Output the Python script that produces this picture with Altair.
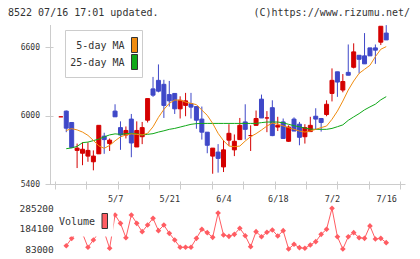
import altair as alt
import pandas as pd

dates = ["4/18", "4/21", "4/22", "4/23", "4/24", "4/25", "4/28", "4/30", "5/1", "5/2",
         "5/7", "5/8", "5/9", "5/12", "5/13", "5/14", "5/15", "5/16", "5/19", "5/20",
         "5/21", "5/22", "5/23", "5/26", "5/27", "5/28", "5/29", "5/30", "6/2", "6/3",
         "6/4", "6/5", "6/6", "6/9", "6/10", "6/11", "6/12", "6/13", "6/16", "6/17",
         "6/18", "6/19", "6/20", "6/23", "6/24", "6/25", "6/26", "6/27", "6/30", "7/1",
         "7/2", "7/3", "7/4", "7/7", "7/8", "7/9", "7/10", "7/11", "7/14", "7/15", "7/16"]

opens = [5990, 6040, 5940, 5695, 5670, 5645, 5595, 5665, 5820, 5755,
         6040, 5895, 5830, 5970, 5725, 5815, 5960, 6235, 6310, 6275,
         6185, 6195, 6060, 6090, 6105, 6080, 5970, 5855, 5645, 5680,
         5550, 5785, 5700, 5790, 5945, 5825, 5915, 6145, 5980, 6070,
         5900, 5945, 5775, 5970, 5925, 5815, 5860, 5995, 5975, 6010,
         6195, 6385, 6225, 6380, 6425, 6530, 6525, 6595, 6595, 6645, 6725]
closes = [5990, 5890, 5720, 5715, 5705, 5695, 5645, 5915, 5790, 5785,
          5990, 5830, 5870, 5760, 5870, 5895, 6150, 6180, 6215, 6090,
          6130, 6060, 6135, 6130, 6075, 5960, 5855, 5740, 5715, 5625,
          5700, 5845, 5775, 5915, 5880, 5825, 5975, 5980, 5980, 5825,
          5915, 5800, 5900, 5865, 5810, 5895, 5915, 5970, 5940, 6100,
          6310, 6295, 6300, 6355, 6560, 6495, 6455, 6525, 6575, 6785, 6665]
highs = [5990, 6045, 5940, 5755, 5765, 5765, 5695, 5915, 5850, 5800,
         6100, 5950, 5905, 6015, 5950, 5945, 6150, 6340, 6450, 6315,
         6305, 6195, 6170, 6200, 6200, 6085, 6080, 5855, 5715, 5750,
         5785, 5925, 5835, 5980, 6100, 5915, 6045, 6185, 6040, 6135,
         5990, 5975, 5915, 5985, 5945, 5925, 5990, 6065, 5980, 6135,
         6415, 6385, 6365, 6625, 6635, 6530, 6725, 6595, 6625, 6785, 6795]
lows = [5990, 5855, 5715, 5540, 5565, 5595, 5520, 5665, 5665, 5690,
        5990, 5700, 5800, 5635, 5725, 5750, 5940, 6165, 6205, 5980,
        6080, 6015, 5975, 5995, 5975, 5885, 5790, 5670, 5490, 5500,
        5505, 5735, 5645, 5790, 5790, 5690, 5910, 5980, 5855, 5820,
        5865, 5800, 5770, 5865, 5740, 5755, 5860, 5880, 5860, 5995,
        6125, 6165, 6205, 6355, 6415, 6370, 6455, 6525, 6455, 6620, 6665]

ma5 = [None, 5870, 5886, 5875, 5856, 5827, 5783, 5735, 5713, 5739,
       5779, 5814, 5831, 5840, 5836, 5831, 5845, 5902, 5985, 6055,
       6108, 6137, 6137, 6119, 6108, 6097, 6049, 6003, 5932, 5845,
       5780, 5733, 5728, 5733, 5777, 5816, 5842, 5874, 5909, 5935,
       5925, 5910, 5895, 5880, 5865, 5856, 5865, 5880, 5895, 5909,
       5968, 6040, 6128, 6225, 6304, 6371, 6407, 6442, 6518, 6583, 6606]
ma25 = [None, 5710, 5717, 5730, 5763, 5768, 5781, 5794, 5814, 5831,
        5840, 5836, 5842, 5845, 5840, 5831, 5836, 5842, 5856, 5867,
        5880, 5888, 5900, 5912, 5924, 5930, 5932, 5932, 5932, 5932,
        5932, 5932, 5932, 5932, 5932, 5932, 5932, 5939, 5944, 5944,
        5944, 5937, 5924, 5912, 5902, 5891, 5882, 5880, 5880, 5880,
        5888, 5903, 5919, 5959, 5989, 6018, 6051, 6077, 6101, 6139, 6167]

volume = [None, 99000, 136000, 162500, 160000, 91500, 127500, 165000, 167500, 86500,
          252000, 210500, 139000, 252000, 210500, 169000, 202000, 235500, 174000, 202000,
          161000, 127500, 91500, 91500, 91500, 136000, 181000, 164000, 141000, 262000,
          152500, 146000, 156000, 186000, 149000, 94500, 169000, 144000, 166000, 177500,
          147500, 174000, 83000, 106500, 89500, 86500, 103000, 119500, 156000, 181000,
          285200, 144000, 83000, 144000, 164000, 139000, 136000, 197500, 132500, 136000, 114500]

price_ticks = [5400, 6000, 6600]
volume_ticks = [83000, 184100, 285200]
label_idx = [10, 20, 30, 40, 50, 60]

RED = "#d40000"
BLUE = "#3f48c8"
ORANGE = "#f08c10"
GREEN = "#10a818"
VOLC = "#ff5c62"
AXC = "#cccccc"
TXT = "#333333"
FONT = "DejaVu Sans Mono"

W, H = 355, 159

df = pd.DataFrame({
    "idx": list(range(len(dates))),
    "date": dates,
    "open": opens, "close": closes, "high": highs, "low": lows,
    "ma5": ma5, "ma25": ma25, "vol": volume,
})
df["dir"] = ["up" if c >= o else "down" for o, c in zip(opens, closes)]

x0, x1 = -1.075, 62.54
xscale = alt.Scale(domain=[x0, x1], nice=False, zero=False)
tick_vals = [x0 + k * (x1 - x0) / 11 for k in range(12)]
label_expr = "[" + ",".join("'%s'" % d for d in dates) + "][datum.value]"

yscale = alt.Scale(domain=[5400, 6796], nice=False, zero=False)
dir_scale = alt.Scale(domain=["up", "down"], range=[RED, BLUE])

X_main = alt.X("idx:Q", scale=xscale, title=None,
               axis=alt.Axis(values=tick_vals, orient="bottom", labels=False, domain=False,
                             tickSize=8, offset=-3, tickColor=AXC, grid=False))
Y_axis = alt.Axis(values=price_ticks, orient="left", domain=False, tickSize=8, offset=-3,
                  tickColor=AXC, labelPadding=5.5, labelFont=FONT, labelFontSize=8,
                  labelColor=TXT, grid=False, labelFlush=False, labelOverlap=False, format="d")

base = alt.Chart(df)
wicks = base.mark_rule(strokeWidth=1).encode(
    x=X_main,
    y=alt.Y("low:Q", scale=yscale, axis=Y_axis, title=None),
    y2="high:Q",
    color=alt.Color("dir:N", scale=dir_scale, legend=None),
)
bodies = base.mark_bar(size=4, strokeWidth=1).encode(
    x=X_main,
    y=alt.Y("open:Q", scale=yscale, axis=Y_axis, title=None),
    y2="close:Q",
    color=alt.Color("dir:N", scale=dir_scale, legend=None),
    stroke=alt.Stroke("dir:N", scale=dir_scale, legend=None),
)
line5 = base.mark_line(color=ORANGE, strokeWidth=1).encode(
    x=X_main, y=alt.Y("ma5:Q", scale=yscale, axis=Y_axis, title=None))
line25 = base.mark_line(color=GREEN, strokeWidth=1).encode(
    x=X_main, y=alt.Y("ma25:Q", scale=yscale, axis=Y_axis, title=None))
main = alt.layer(wicks, bodies, line25, line5)

X_vol = alt.X("idx:Q", scale=xscale, title=None,
              axis=alt.Axis(values=label_idx, labelExpr=label_expr, orient="bottom",
                            domain=True, domainColor=AXC, ticks=False, tickSize=0,
                            labelPadding=10.5, labelFont=FONT, labelFontSize=8.5,
                            labelColor=TXT, grid=False, labelFlush=False, labelOverlap=False))
vscale = alt.Scale(domain=[83000, 285200], range=[224, 183.3], nice=False, zero=False)
V_axis = alt.Axis(values=volume_ticks, orient="left", domain=False, ticks=False, tickSize=0,
                  labelPadding=0, offset=-3.3, labelFont=FONT, labelFontSize=9.5,
                  labelColor=TXT, grid=False, labelFlush=False, labelOverlap=False, format="d")
vline = base.mark_line(color=VOLC, strokeWidth=1).encode(
    x=X_vol, y=alt.Y("vol:Q", scale=vscale, axis=V_axis, title=None))
vpts = base.mark_point(shape="diamond", filled=True, size=32, opacity=1, color=VOLC).encode(
    x=X_vol, y=alt.Y("vol:Q", scale=vscale, axis=V_axis, title=None))
vol = alt.layer(vline, vpts)

one = pd.DataFrame({"k": [0]})
deco = alt.Chart(one)

yrule = deco.mark_rule(color=AXC, strokeWidth=1).encode(
    x=alt.value(0.5), y=alt.value(0), y2=alt.value(H))


def text(s, x, y, align="left", size=10):
    return deco.mark_text(align=align, baseline="middle", font=FONT, fontSize=size,
                          color=TXT).encode(x=alt.value(x), y=alt.value(y), text=alt.value(s))


def box(xa, xb, ya, yb, fill, stroke=None):
    kw = dict(fill=fill)
    if stroke:
        kw.update(stroke=stroke, strokeWidth=1)
    else:
        kw.update(strokeWidth=0)
    return deco.mark_rect(**kw).encode(x=alt.value(xa), x2=alt.value(xb),
                                       y=alt.value(ya), y2=alt.value(yb))


title_l = text("8522 07/16 17:01 updated.", -42, -12.5)
title_r = text("(C)https://www.rizumu.net/", 360, -12.5, align="right")

leg_bg = box(15.5, 92.5, 5.5, 52.5, "white", AXC)
leg_t1 = text("5-day MA", 74.5, 21, align="right")
leg_t2 = text("25-day MA", 74.5, 38.3, align="right")
leg_b1 = box(81.5, 87.5, 12.5, 27.5, ORANGE, "#333333")
leg_b2 = box(81.5, 87.5, 29.5, 44.5, GREEN, "#333333")

vleg_bg = box(5, 63.5, 181, 211.5, "white")
vleg_t = text("Volume", 9, 197)
vleg_b = box(52, 57.5, 188.5, 203.5, VOLC, "#333333")

chart = alt.layer(
    main, vol, yrule,
    leg_bg, leg_t1, leg_t2, leg_b1, leg_b2,
    vleg_bg, vleg_t, vleg_b,
    title_l, title_r,
).resolve_scale(y="independent").resolve_axis(x="independent", y="independent").properties(
    width=W, height=H,
    padding={"left": 50, "top": 25, "right": 15, "bottom": 75},
    autosize=alt.AutoSizeParams(type="none"),
    background="white",
).configure_view(stroke=None)

chart.save("out.html", embed_options={"renderer": "svg", "actions": False})
